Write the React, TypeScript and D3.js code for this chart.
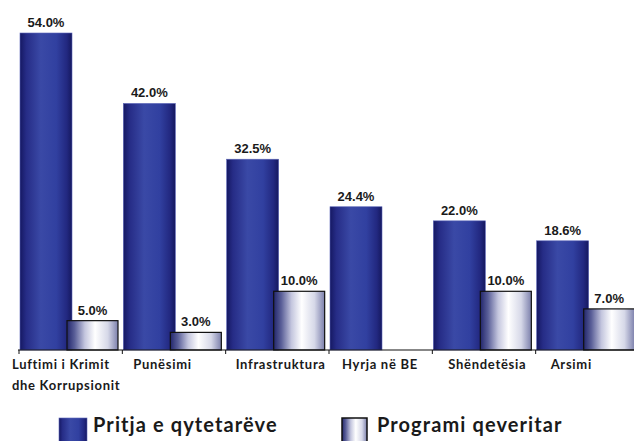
import { useEffect, useRef } from "react";
import * as d3 from "d3";

const categories = [
  "Luftimi i Krimit|dhe Korrupsionit",
  "Punësimi",
  "Infrastruktura",
  "Hyrja në BE",
  "Shëndetësia",
  "Arsimi",
];
const citizens = [54.0, 42.0, 32.5, 24.4, 22.0, 18.6];
const government: (number | null)[] = [5.0, 3.0, 10.0, null, 10.0, 7.0];
const seriesNames = ["Pritja e qytetarëve", "Programi qeveritar"];

const labelFont = "'Liberation Sans', Arial, sans-serif";
const catFont = "Lato, 'Open Sans', sans-serif";

export default function App() {
  const svgRef = useRef<SVGSVGElement>(null);

  useEffect(() => {
    const width = 634;
    const height = 441;
    const baseY = 350;

    const svg = d3.select(svgRef.current);
    svg.selectAll("*").remove();
    svg.attr("width", width).attr("height", height);

    const defs = svg.append("defs");
    const blue = defs
      .append("linearGradient")
      .attr("id", "blueGrad")
      .attr("x1", "0%")
      .attr("x2", "100%");
    [
      [0, "#151862"],
      [0.12, "#262c86"],
      [0.4, "#3a49a6"],
      [0.7, "#3140a0"],
      [0.9, "#222880"],
      [1, "#15185e"],
    ].forEach(([o, c]) =>
      blue.append("stop").attr("offset", o as number).attr("stop-color", c as string)
    );
    const white = defs
      .append("linearGradient")
      .attr("id", "whiteGrad")
      .attr("x1", "0%")
      .attr("x2", "100%");
    [
      [0, "#22266c"],
      [0.15, "#5a5f98"],
      [0.35, "#c4c6de"],
      [0.55, "#ffffff"],
      [0.8, "#d6d8e8"],
      [1, "#7c80ac"],
    ].forEach(([o, c]) =>
      white.append("stop").attr("offset", o as number).attr("stop-color", c as string)
    );

    const x = d3
      .scaleBand<string>()
      .domain(categories)
      .range([19, 639])
      .paddingInner(0)
      .paddingOuter(0);
    const y = d3.scaleLinear().domain([0, 54]).range([baseY, 33]);

    const blueW = 52;
    const whiteOff = 48;
    const whiteW = 51;

    const g = svg.append("g");

    // citizens bars
    g.selectAll("rect.cit")
      .data(citizens)
      .enter()
      .append("rect")
      .attr("class", "cit")
      .attr("x", (_, i) => (x(categories[i]) as number) + 1)
      .attr("y", (d) => y(d))
      .attr("width", blueW)
      .attr("height", (d) => baseY - y(d))
      .attr("fill", "url(#blueGrad)")
      .attr("stroke", "#5a64b8")
      .attr("stroke-width", 0.6);

    g.selectAll("text.cit")
      .data(citizens)
      .enter()
      .append("text")
      .attr("x", (_, i) => (x(categories[i]) as number) + 1 + blueW / 2)
      .attr("y", (d) => y(d) - 6)
      .attr("text-anchor", "middle")
      .attr("font-family", labelFont)
      .attr("font-weight", "bold")
      .attr("font-size", 13)
      .attr("fill", "#1a1a1a")
      .text((d) => `${d.toFixed(1)}%`);

    // government bars
    const gov = government
      .map((v, i) => ({ v, c: categories[i] }))
      .filter((d) => d.v !== null) as { v: number; c: string }[];

    g.selectAll("rect.gov")
      .data(gov)
      .enter()
      .append("rect")
      .attr("x", (d) => (x(d.c) as number) + whiteOff)
      .attr("y", (d) => y(d.v))
      .attr("width", whiteW)
      .attr("height", (d) => baseY - y(d.v))
      .attr("fill", "url(#whiteGrad)")
      .attr("stroke", "#111")
      .attr("stroke-width", 1.2);

    g.selectAll("text.gov")
      .data(gov)
      .enter()
      .append("text")
      .attr("x", (d) => (x(d.c) as number) + whiteOff + whiteW / 2)
      .attr("y", (d) => y(d.v) - 6)
      .attr("text-anchor", "middle")
      .attr("font-family", labelFont)
      .attr("font-weight", "bold")
      .attr("font-size", 13)
      .attr("fill", "#1a1a1a")
      .text((d) => `${d.v.toFixed(1)}%`);

    // axis
    g.append("line")
      .attr("x1", 18)
      .attr("x2", 634)
      .attr("y1", baseY)
      .attr("y2", baseY)
      .attr("stroke", "#111")
      .attr("stroke-width", 1.2);
    g.selectAll("line.tick")
      .data(categories)
      .enter()
      .append("line")
      .attr("x1", (d) => x(d) as number)
      .attr("x2", (d) => x(d) as number)
      .attr("y1", baseY)
      .attr("y2", baseY + 4)
      .attr("stroke", "#111");

    const labelDx = [-7, 11, 10, 13, 16, 15];
    const cat = g
      .selectAll("text.cat")
      .data(categories)
      .enter()
      .append("text")
      .attr("x", (d, i) => (x(d) as number) + labelDx[i])
      .attr("y", 369)
      .attr("font-family", catFont)
      .attr("font-weight", "bold")
      .attr("font-size", 13)
      .attr("letter-spacing", 0.7)
      .attr("fill", "#1a1a1a");
    cat.each(function (d, i) {
      const lines = d.split("|");
      const t = d3.select(this);
      lines.forEach((l, j) => {
        t.append("tspan")
          .attr("x", (x(d) as number) + labelDx[i])
          .attr("dy", j === 0 ? 0 : 21)
          .text(l);
      });
    });

    // legend
    const legend = [
      { name: seriesNames[0], fill: "url(#blueGrad)", stroke: "#5a64b8", x: 59 },
      { name: seriesNames[1], fill: "url(#whiteGrad)", stroke: "#111", x: 342 },
    ];
    const lg = g
      .selectAll("g.lg")
      .data(legend)
      .enter()
      .append("g")
      .attr("transform", (d) => `translate(${d.x},418)`);
    lg.append("rect")
      .attr("width", (_, i) => (i === 0 ? 28 : 25))
      .attr("height", 30)
      .attr("fill", (d) => d.fill)
      .attr("stroke", (d) => d.stroke)
      .attr("stroke-width", (_, i) => (i === 0 ? 0.6 : 1.5));
    lg.append("text")
      .attr("x", (_, i) => (i === 0 ? 34 : 35))
      .attr("y", 14)
      .attr("font-family", catFont)
      .attr("font-weight", "bold")
      .attr("font-size", 20)
      .attr("letter-spacing", 1.1)
      .attr("fill", "#1a1a1a")
      .text((d) => d.name);
  }, []);

  return (
    <div style={{ position: "absolute", left: 0, top: 0, background: "#fff" }}>
      <svg ref={svgRef} style={{ display: "block" }} />
    </div>
  );
}
